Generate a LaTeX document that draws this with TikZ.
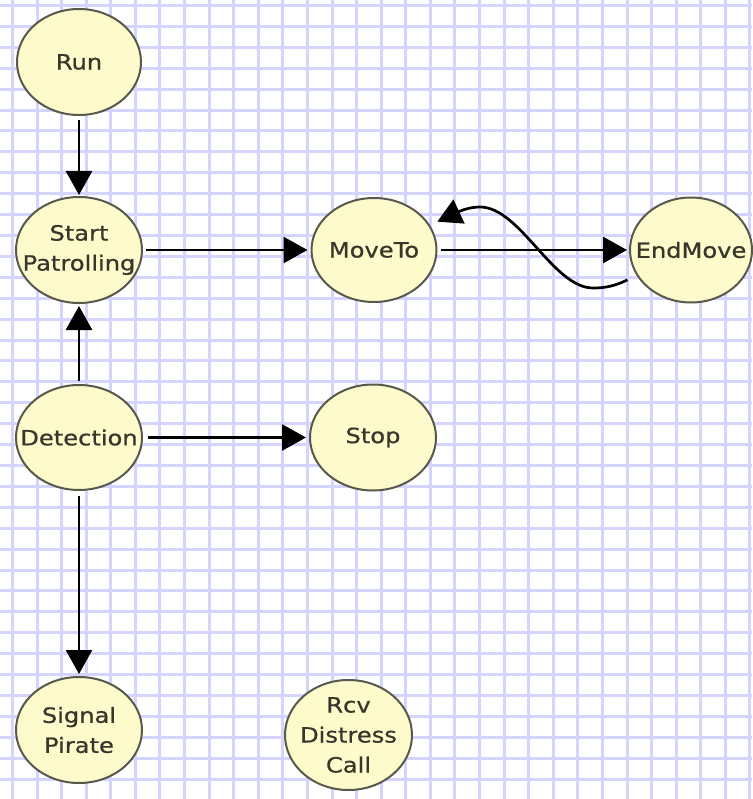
\documentclass[tikz,border=0pt]{standalone}
\usepackage{fontspec}
\setmainfont[FakeStretch=1.15,FakeBold=0.7]{DejaVu Sans}
\usetikzlibrary{shapes.geometric,arrows.meta}
\definecolor{gridline}{RGB}{212,212,255}
\definecolor{statefill}{RGB}{253,251,204}
\definecolor{stateedge}{RGB}{88,88,76}
\definecolor{statetxt}{RGB}{54,54,42}
\begin{document}
\begin{tikzpicture}[x=1pt,y=-1pt,
  state/.style={ellipse, draw=stateedge, fill=statefill, line width=2pt, inner sep=0pt},
  statetext/.style={text=statetxt, align=center, inner sep=0pt,
    font=\fontsize{21}{30}\selectfont},
  trans/.style={line width=2.7pt, -{Triangle[length=24pt,width=26pt]}}]

% page and graph-paper background (lines snapped to whole points)
\useasboundingbox (0,0) rectangle (752,799);
\fill[white] (0,0) rectangle (752,799);
\foreach \k in {0,...,30}{
  \pgfmathsetmacro{\gx}{round(12+24.58*\k)+0.5}
  \draw[gridline, line width=3pt] (\gx,0) -- (\gx,799);
}
\foreach \k in {0,...,38}{
  \pgfmathsetmacro{\gy}{round(5+20.91*\k)+0.5}
  \draw[gridline, line width=3pt] (0,\gy) -- (752,\gy);
}

% states
\node[state, minimum width=124pt, minimum height=106pt,
      label={[statetext]center:Run}] (run) at (79,62) {};
\node[state, minimum width=126pt, minimum height=106pt,
      label={[statetext]center:{Start\\Patrolling}}] (sp) at (79,250) {};
\node[state, minimum width=125pt, minimum height=104pt,
      label={[statetext]center:MoveTo}] (mv) at (374,250) {};
\node[state, minimum width=122pt, minimum height=105pt,
      label={[statetext]center:EndMove}] (em) at (691,250) {};
\node[state, minimum width=126pt, minimum height=105pt,
      label={[statetext]center:Detection}] (det) at (79,437.5) {};
\node[state, minimum width=126pt, minimum height=106pt,
      label={[statetext]center:Stop}] (stop) at (373,437.5) {};
\node[state, minimum width=126pt, minimum height=106pt,
      label={[statetext]center:{Signal\\Pirate}}] (sig) at (79,730) {};
\node[state, minimum width=127pt, minimum height=110pt,
      label={[statetext]center:{Rcv\\Distress\\Call}}] (rcv) at (348.5,735) {};

% transitions
\draw[trans, shorten <=4pt, shorten >=1pt] (run.south) -- (sp.north);
\draw[trans, shorten <=3pt, shorten >=3pt] (sp.east) -- (mv.west);
\draw[trans, shorten <=3.5pt, shorten >=2pt] (mv.east) -- (em.west);
\draw[trans, shorten <=3pt, shorten >=2pt] (det.north) -- (sp.south);
\draw[trans, shorten <=5pt, shorten >=3pt] (det.east) -- (stop.west);
\draw[trans, shorten <=5pt, shorten >=2pt] (det.south) -- (sig.north);
% EndMove back to MoveTo: S-shaped return transition
\draw[trans, shorten <=10pt, shorten >=8pt]
  (em.205) .. controls (615,286) and (605,288) .. (593,288)
           .. controls (553,288) and (520,207) .. (480,207)
           .. controls (468,207) and (458,212) .. (mv.24);
\end{tikzpicture}
\end{document}
